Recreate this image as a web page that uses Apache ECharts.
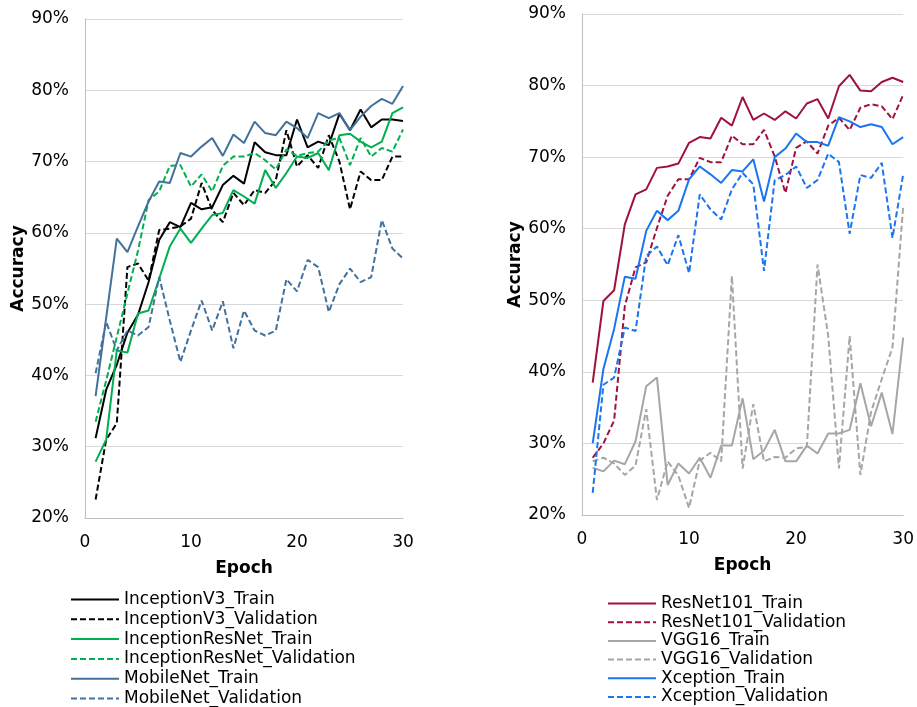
<!DOCTYPE html>
<html>
<head>
<meta charset="utf-8">
<script src="https://cdn.jsdelivr.net/npm/echarts@6/dist/echarts.min.js"></script>
<style>
  html, body { margin: 0; padding: 0; background: #ffffff; }
  #chart { width: 917px; height: 707px; }
</style>
</head>
<body>
<div id="chart"></div>
<script>
// Training / validation accuracy per epoch for six networks, split into two panels.
const epochs = [1, 2, 3, 4, 5, 6, 7, 8, 9, 10, 11, 12, 13, 14, 15, 16, 17, 18, 19, 20, 21, 22, 23, 24, 25, 26, 27, 28, 29, 30];
const xTicks = [0, 10, 20, 30];
const yTicks = [20, 30, 40, 50, 60, 70, 80, 90];

// Left panel (accuracy, %)
const inceptionV3Train = [31.2, 38.0, 41.5, 46.0, 48.5, 53.1, 59.0, 61.5, 60.8, 64.2, 63.3, 63.6, 66.7, 68.0, 66.9, 72.7, 71.3, 70.9, 70.9, 75.9, 72.0, 72.8, 72.3, 76.7, 74.4, 77.3, 74.8, 75.9, 75.9, 75.7];
const inceptionV3Val = [22.6, 31.0, 33.3, 55.2, 55.7, 53.3, 60.4, 60.6, 60.9, 62.0, 67.0, 63.2, 61.5, 65.6, 63.9, 66.0, 65.6, 67.4, 74.4, 69.3, 70.9, 69.1, 73.7, 70.0, 63.3, 68.6, 67.4, 67.4, 70.7, 70.7];
const inceptionResNetTrain = [27.9, 31.0, 43.5, 43.2, 48.7, 49.1, 53.6, 58.1, 60.6, 58.6, 60.6, 62.5, 62.8, 66.0, 65.1, 64.1, 68.8, 66.3, 68.4, 70.7, 70.5, 71.2, 68.8, 73.7, 73.9, 72.8, 72.0, 72.8, 76.8, 77.6];
const inceptionResNetVal = [33.5, 39.3, 45.4, 51.5, 57.5, 64.6, 65.8, 69.4, 69.5, 66.5, 68.2, 65.8, 69.4, 70.7, 70.7, 71.2, 70.2, 68.9, 71.7, 70.8, 71.2, 71.4, 73.0, 73.3, 69.5, 73.3, 70.7, 71.9, 71.4, 74.5];
const mobileNetTrain = [37.1, 48.1, 59.2, 57.3, 60.9, 64.4, 67.2, 67.0, 71.2, 70.7, 72.1, 73.3, 70.8, 73.8, 72.6, 75.6, 74.0, 73.7, 75.6, 74.7, 73.3, 76.8, 76.1, 76.8, 74.4, 76.3, 77.8, 78.8, 78.1, 80.6];
const mobileNetVal = [40.3, 47.5, 43.5, 46.3, 45.6, 46.8, 53.8, 47.7, 41.9, 46.3, 50.5, 46.3, 50.4, 43.8, 49.1, 46.3, 45.6, 46.3, 53.5, 51.8, 56.2, 55.2, 48.9, 52.8, 55.0, 53.1, 53.8, 61.8, 57.8, 56.4];

// Right panel (accuracy, %)
const resNet101Train = [38.5, 49.9, 51.4, 60.6, 64.8, 65.5, 68.5, 68.7, 69.1, 72.0, 72.8, 72.6, 75.5, 74.4, 78.4, 75.2, 76.1, 75.2, 76.4, 75.4, 77.5, 78.1, 75.4, 79.9, 81.5, 79.3, 79.2, 80.5, 81.1, 80.5];
const resNet101Val = [28.0, 30.0, 33.2, 49.2, 54.6, 55.3, 60.1, 64.6, 66.9, 66.9, 69.9, 69.3, 69.3, 73.0, 71.8, 71.8, 73.8, 70.1, 65.0, 71.3, 72.2, 70.5, 74.4, 75.5, 73.8, 76.9, 77.4, 77.1, 75.3, 78.7];
const vgg16Train = [26.6, 26.1, 27.6, 27.1, 30.3, 38.0, 39.2, 24.2, 27.2, 25.8, 28.0, 25.2, 29.7, 29.7, 36.3, 27.8, 29.0, 31.9, 27.5, 27.5, 29.7, 28.6, 31.4, 31.4, 31.9, 38.4, 32.4, 37.1, 31.3, 44.8];
const vgg16Val = [27.5, 28.0, 27.2, 25.6, 26.9, 34.8, 22.1, 27.5, 25.5, 21.0, 27.6, 28.7, 27.5, 53.4, 26.5, 35.5, 27.5, 28.1, 28.0, 29.3, 29.5, 55.0, 45.0, 26.5, 45.0, 25.6, 34.4, 39.0, 43.4, 63.2];
const xceptionTrain = [30.0, 40.4, 46.0, 53.3, 53.0, 59.7, 62.5, 61.2, 62.5, 66.9, 68.7, 67.6, 66.4, 68.2, 68.0, 69.7, 63.8, 70.0, 71.2, 73.3, 72.1, 72.1, 71.6, 75.6, 75.0, 74.2, 74.6, 74.2, 71.8, 72.8];
const xceptionVal = [23.1, 38.2, 39.2, 46.2, 45.7, 56.2, 57.5, 54.9, 59.1, 53.8, 64.8, 62.7, 61.3, 65.5, 67.8, 66.2, 54.1, 66.8, 67.5, 68.7, 65.7, 66.8, 70.5, 69.3, 59.3, 67.5, 67.1, 69.2, 58.7, 67.6];

const FONT = '"DejaVu Sans", Verdana, sans-serif';
const AXIS_GREY = '#BFBFBF';
const GRID_GREY = '#D9D9D9';

const COLORS = {
  inceptionV3: '#000000',
  inceptionResNet: '#00B050',
  mobileNet: '#41719C',
  resNet101: '#A0123E',
  vgg16: '#A6A6A6',
  xception: '#1A75F2'
};

function pairs(values) {
  return epochs.map((e, i) => [e, values[i]]);
}

function line(name, values, color, dashed, idx) {
  return {
    name: name,
    type: 'line',
    xAxisIndex: idx,
    yAxisIndex: idx,
    data: pairs(values),
    symbol: 'none',
    smooth: false,
    animation: false,
    lineStyle: { color: color, width: 2, type: dashed ? [6, 3] : 'solid' },
    itemStyle: { color: color }
  };
}

function xAxis(idx) {
  return {
    gridIndex: idx,
    type: 'value',
    min: xTicks[0],
    max: xTicks[xTicks.length - 1],
    interval: xTicks[1] - xTicks[0],
    name: 'Epoch',
    nameLocation: 'middle',
    nameGap: 42,
    nameTextStyle: { fontFamily: FONT, fontSize: 17, fontWeight: 'bold', color: '#000' },
    axisLine: { show: true, lineStyle: { color: AXIS_GREY, width: 1 } },
    axisTick: { show: false },
    axisLabel: { fontFamily: FONT, fontSize: 17, color: '#000', margin: 16 },
    splitLine: { show: false }
  };
}

function yAxis(idx) {
  return {
    gridIndex: idx,
    type: 'value',
    min: yTicks[0],
    max: yTicks[yTicks.length - 1],
    interval: yTicks[1] - yTicks[0],
    name: 'Accuracy',
    nameLocation: 'middle',
    nameGap: 58,
    nameTextStyle: { fontFamily: FONT, fontSize: 17, fontWeight: 'bold', color: '#000' },
    axisLine: { show: true, lineStyle: { color: AXIS_GREY, width: 1 } },
    axisTick: { show: false },
    axisLabel: { fontFamily: FONT, fontSize: 17, color: '#000', margin: 16, formatter: '{value}%' },
    splitLine: { show: true, lineStyle: { color: GRID_GREY, width: 1 } }
  };
}

function legend(names, left, top, gap) {
  return {
    data: names,
    orient: 'vertical',
    left: left,
    top: top,
    height: 130,
    padding: 0,
    itemWidth: 48,
    itemHeight: 10,
    itemGap: gap,
    itemStyle: { opacity: 0 },
    textStyle: { fontFamily: FONT, fontSize: 17, color: '#000', lineHeight: 17 },
    selectedMode: false
  };
}

const leftNames = ['InceptionV3_Train', 'InceptionV3_Validation', 'InceptionResNet_Train', 'InceptionResNet_Validation', 'MobileNet_Train', 'MobileNet_Validation'];
const rightNames = ['ResNet101_Train', 'ResNet101_Validation', 'VGG16_Train', 'VGG16_Validation', 'Xception_Train', 'Xception_Validation'];

const option = {
  backgroundColor: '#ffffff',
  animation: false,
  grid: [
    { left: 85, top: 19, width: 318, height: 499 },
    { left: 582, top: 14, width: 322, height: 501 }
  ],
  xAxis: [xAxis(0), xAxis(1)],
  yAxis: [yAxis(0), yAxis(1)],
  legend: [
    legend(leftNames, 70, 591, 2.8),
    legend(rightNames, 607, 595, 1.7)
  ],
  series: [
    line(leftNames[0], inceptionV3Train, COLORS.inceptionV3, false, 0),
    line(leftNames[1], inceptionV3Val, COLORS.inceptionV3, true, 0),
    line(leftNames[2], inceptionResNetTrain, COLORS.inceptionResNet, false, 0),
    line(leftNames[3], inceptionResNetVal, COLORS.inceptionResNet, true, 0),
    line(leftNames[4], mobileNetTrain, COLORS.mobileNet, false, 0),
    line(leftNames[5], mobileNetVal, COLORS.mobileNet, true, 0),
    line(rightNames[0], resNet101Train, COLORS.resNet101, false, 1),
    line(rightNames[1], resNet101Val, COLORS.resNet101, true, 1),
    line(rightNames[2], vgg16Train, COLORS.vgg16, false, 1),
    line(rightNames[3], vgg16Val, COLORS.vgg16, true, 1),
    line(rightNames[4], xceptionTrain, COLORS.xception, false, 1),
    line(rightNames[5], xceptionVal, COLORS.xception, true, 1)
  ]
};

const chart = echarts.init(document.getElementById('chart'), null, { renderer: 'canvas' });
chart.setOption(option);
</script>
</body>
</html>
